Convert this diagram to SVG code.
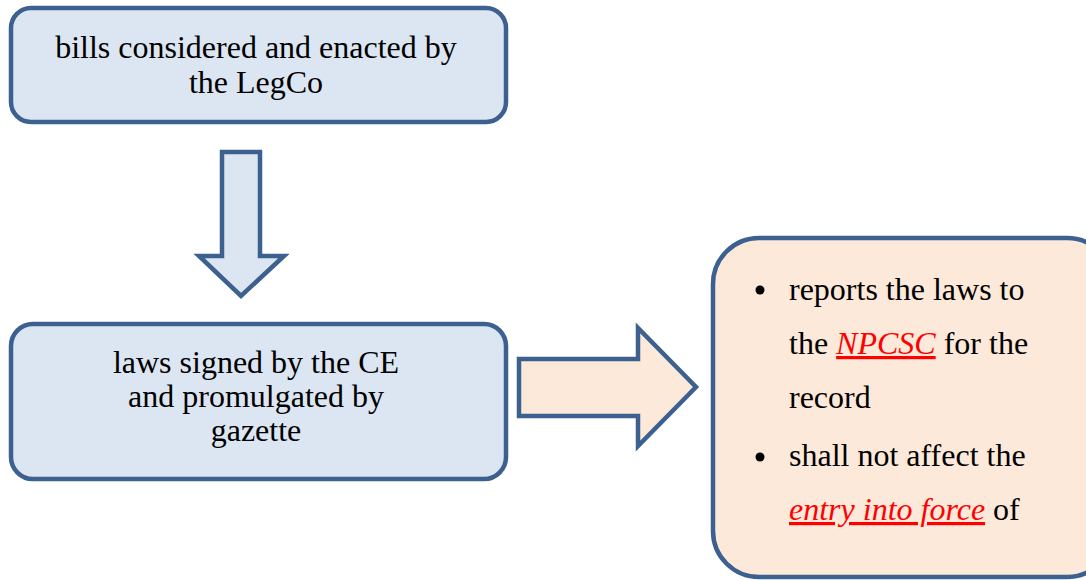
<svg xmlns="http://www.w3.org/2000/svg" width="1086" height="580" viewBox="0 0 1086 580">
<style>
.blue{fill:#DCE6F2;stroke:#3C6090;stroke-width:4.5}
.peach{fill:#FDE9DA;stroke:#3C6090;stroke-width:4.5}
text{font-family:"Liberation Serif","Times New Roman",serif;font-size:32px;fill:#000}
.c{text-anchor:middle}
.red{fill:#FF0000;font-style:italic;text-decoration:underline}
</style>
<rect width="1086" height="580" fill="#fff"/>
<g id="node-legco">
<rect class="blue" x="11" y="8" width="495" height="114" rx="20"/>
<text class="c" x="256" y="58">bills considered and enacted by</text>
<text class="c" x="256" y="93">the LegCo</text>
</g>
<g id="node-ce">
<rect class="blue" x="11" y="324" width="495" height="155" rx="22"/>
<text class="c" x="256" y="373">laws signed by the CE</text>
<text class="c" x="256" y="407">and promulgated by</text>
<text class="c" x="256" y="441">gazette</text>
</g>
<g id="node-npcsc">
<rect class="peach" x="713" y="238" width="400" height="339" rx="46"/>
<circle cx="760" cy="290" r="4.5" fill="#000"/>
<circle cx="760" cy="457" r="4.5" fill="#000"/>
<text x="789" y="300">reports the laws to</text>
<text x="789" y="354">the <tspan class="red">NPCSC</tspan> for the</text>
<text x="789" y="408">record</text>
<text x="789" y="466">shall not affect the</text>
<text x="789" y="520"><tspan class="red">entry into force</tspan> of</text>
</g>
<g id="connectors">
<path class="blue" d="M222 152 H260 V256 H284 L241 296 L199 256 H222 Z"/>
<path class="peach" d="M519 359 H638 V328 L696 387 L638 446 V416 H519 Z"/>
</g>
</svg>
